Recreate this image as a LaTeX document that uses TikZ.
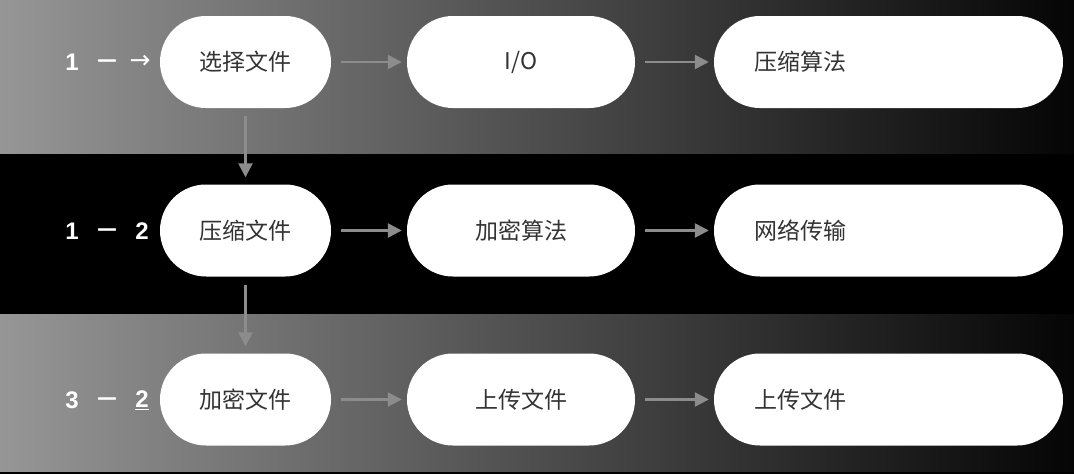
\documentclass[tikz,border=0pt]{standalone}
\usepackage{fontspec}
\setmainfont{Noto Sans}
\newfontfamily\cjk{Noto Sans CJK SC}
\newfontfamily\dejavu{DejaVu Sans}
\newfontfamily\labfont{Liberation Sans}
\usetikzlibrary{arrows.meta}
\definecolor{bandL}{HTML}{969696}
\definecolor{bandM}{HTML}{3E3E3E}
\definecolor{bandR}{HTML}{050505}
\definecolor{arrowgray}{HTML}{8C8C8C}
\definecolor{boxtext}{HTML}{333333}
\begin{document}
\begin{tikzpicture}[x=1pt,y=-1pt,
  box/.style={fill=white, rounded corners=46pt, minimum height=92pt, inner sep=0pt,
    font=\cjk\fontsize{23}{23}\selectfont, text=boxtext},
  smallbox/.style={box, minimum width=171pt},
  midbox/.style={box, minimum width=228pt},
  widebox/.style={box, text width=269pt, align=left, inner xsep=40pt},
  lab/.style={text=white, font=\labfont\bfseries\fontsize{24}{24}\selectfont, inner sep=0pt},
  dashlab/.style={lab, font=\dejavu\bfseries\fontsize{20}{20}\selectfont},
  arr/.style={draw=arrowgray, line width=2.5pt, -{Triangle[length=14pt,width=14pt]}},
  harr/.style={arr, shorten <=10pt, shorten >=5pt},
  varr/.style={arr, shorten <=8pt, shorten >=7pt}]
\useasboundingbox (0,0) rectangle (1074,474);
\fill[black] (0,0) rectangle (1074,474);
\shade[left color=bandL, middle color=bandM, right color=bandR] (0,0) rectangle (1074,153);
\shade[left color=bandL, middle color=bandM, right color=bandR] (0,314) rectangle (1074,471);

% row labels
\node[lab] (l1a) at (72,62) {1};
\node[dashlab] (l1b) at (107,63) {—};
\node[lab, font=\dejavu\fontsize{25}{25}\selectfont] (l1c) at (140,62) {→};
\node[lab] (l2a) at (72,231) {1};
\node[dashlab] (l2b) at (107,232) {—};
\node[lab] (l2c) at (142,231) {2};
\node[lab] (l3a) at (72,400) {3};
\node[dashlab] (l3b) at (107,401) {—};
\node[lab] (l3c) at (142,400) {\underline{2}};

% boxes
\node[smallbox] (r1a) at (245.5,62) {选择文件};
\node[midbox]   (r1b) at (521,62) {I/O};
\node[widebox]  (r1c) at (888.5,62) {压缩算法};
\node[smallbox] (r2a) at (245.5,230.5) {压缩文件};
\node[midbox]   (r2b) at (521,230.5) {加密算法};
\node[widebox]  (r2c) at (888.5,230.5) {网络传输};
\node[smallbox] (r3a) at (245.5,399.5) {加密文件};
\node[midbox]   (r3b) at (521,399.5) {上传文件};
\node[widebox]  (r3c) at (888.5,399.5) {上传文件};

% connectors
\draw[harr] (r1a) -- (r1b);
\draw[harr] (r1b) -- (r1c);
\draw[harr] (r2a) -- (r2b);
\draw[harr] (r2b) -- (r2c);
\draw[harr] (r3a) -- (r3b);
\draw[harr] (r3b) -- (r3c);
\draw[varr] (r1a) -- (r2a);
\draw[varr] (r2a) -- (r3a);
\end{tikzpicture}
\end{document}
